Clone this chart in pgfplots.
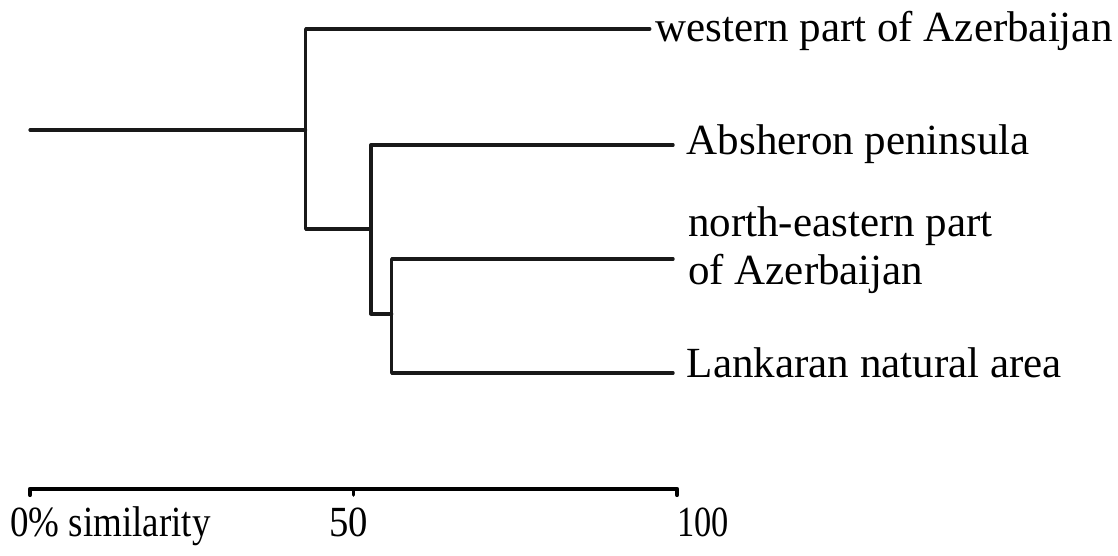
\documentclass[border=0pt]{standalone}
\usepackage{pgfplots}
\pgfplotsset{compat=1.18}
\usepackage{fontspec}
\setmainfont{Liberation Serif}
\begin{document}
\begin{tikzpicture}
\begin{axis}[
  width=1118pt, height=556pt, scale only axis,
  xmin=-4.637, xmax=168.16, ymin=0, ymax=556, y dir=reverse,
  hide axis, clip=false,
]
\draw[draw=none] (rel axis cs:0,0) rectangle (rel axis cs:1,1);
% dendrogram
\addplot[black!90, no markers, line width=3.2pt, line cap=round, line join=round] coordinates {(0,130) (42.6,130)};
\addplot[black!90, no markers, line width=3.2pt, line cap=round, line join=round] coordinates {(95.8,29) (42.6,29) (42.6,229) (52.7,229)};
\addplot[black!90, no markers, line width=3.2pt, line cap=round, line join=round] coordinates {(99.4,145) (52.7,145) (52.7,314) (55.9,314)};
\addplot[black!90, no markers, line width=3.2pt, line cap=round, line join=round] coordinates {(99.4,259) (55.9,259) (55.9,373) (99.4,373)};
% scale axis
\addplot[black, no markers, line width=4.2pt, line cap=round, line join=round] coordinates {(0,495) (0,489) (100,489) (100,495)};
\addplot[black, no markers, line width=3.6pt, line cap=round] coordinates {(50,489) (50,495)};
% labels
\begin{scope}[every node/.style={inner sep=0pt, anchor=base west, font=\fontsize{43}{48}\selectfont}]
\node at (axis cs:96.6,42) {western part of Azerbaijan};
\node at (axis cs:101.5,155) {Absheron peninsula};
\node at (axis cs:101.7,237) {north-eastern part};
\node at (axis cs:101.7,285) {of Azerbaijan};
\node at (axis cs:101.5,378) {Lankaran natural area};
\end{scope}
\begin{scope}[every node/.style={inner sep=0pt, font=\fontsize{43}{48}\selectfont}]
\node[anchor=base west] at (axis cs:-3.09,536) {\scalebox{0.86}[1]{0\% similarity}};
\node[anchor=base] at (axis cs:49.3,536) {\scalebox{0.9}[1]{50}};
\node[anchor=base west] at (axis cs:100,536) {\scalebox{0.8}[1]{100}};
\end{scope}
\end{axis}
\end{tikzpicture}
\end{document}
